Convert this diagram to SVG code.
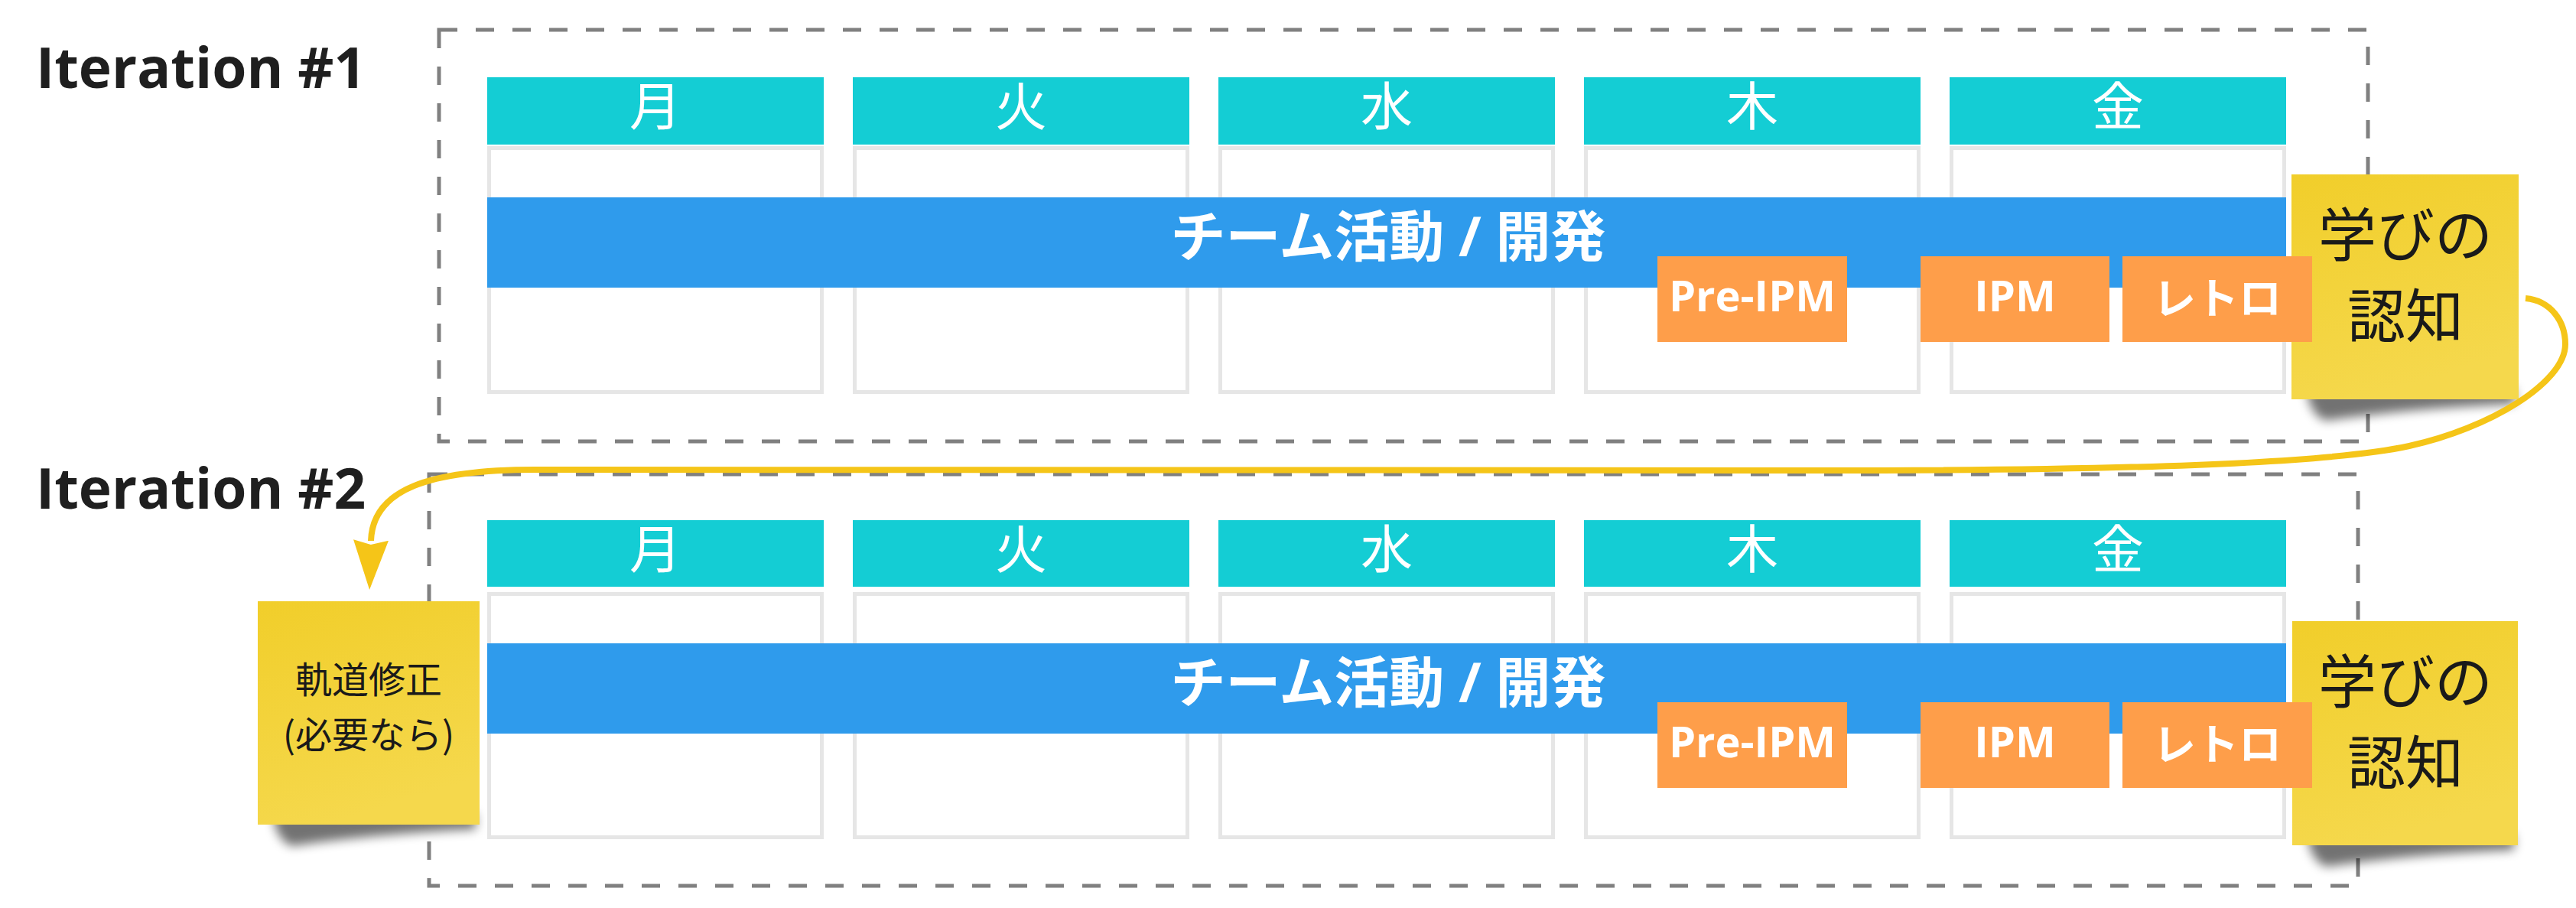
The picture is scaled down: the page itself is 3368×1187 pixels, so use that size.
<svg xmlns="http://www.w3.org/2000/svg" width="3368" height="1187" viewBox="0 0 3368 1187">
<defs>
<style>
.frame{fill:none;stroke:#808080;stroke-width:5;stroke-dasharray:24 24}
.hdr{fill:#14cdd4}
.cell{fill:#fff;stroke:#e6e6e6;stroke-width:5}
.bar{fill:#2f9bec}
.tag{fill:#fe9e4a}
.sticky{fill:url(#stickyFill)}
.shadow{fill:#000;opacity:.55;filter:url(#blur)}
.title{font-family:"Open Sans","Noto Sans CJK JP",sans-serif;font-weight:700;font-size:73px;fill:#1f1f1f}
.day{font-family:"Noto Sans CJK JP",sans-serif;font-weight:400;font-size:68px;fill:#fff;text-anchor:middle}
.bartxt{font-family:"Open Sans","Noto Sans CJK JP",sans-serif;font-weight:700;font-size:72px;fill:#fff;text-anchor:middle}
.tagtxt{font-family:"Open Sans","Noto Sans CJK JP",sans-serif;font-weight:700;font-size:56px;fill:#fff;text-anchor:middle}
.big{font-family:"Noto Sans CJK JP",sans-serif;font-weight:400;font-size:76px;fill:#1a1a1a;text-anchor:middle}
.small{font-family:"Noto Sans CJK JP",sans-serif;font-weight:400;font-size:48px;fill:#1a1a1a;text-anchor:middle}
.conn{fill:none;stroke:#f5c518;stroke-width:8}
</style>
<linearGradient id="stickyFill" x1="0" y1="0" x2="0.3" y2="1">
<stop offset="0" stop-color="#f1ce2a"/>
<stop offset="1" stop-color="#f5d84c"/>
</linearGradient>
<filter id="blur" x="-20%" y="-100%" width="140%" height="300%">
<feGaussianBlur stdDeviation="7"/>
</filter>
<marker id="arrow" viewBox="0 0 65 46" refX="1" refY="23" markerWidth="65" markerHeight="46" markerUnits="userSpaceOnUse" orient="auto">
<polygon points="0,0 65,23 0,46 6,23" fill="#f5c518"/>
</marker>
</defs>
<rect width="3368" height="1187" fill="#fff"/>

<g id="iteration1">
<text id="label1" class="title" x="47" y="115">Iteration #1</text>
<rect id="frame1" class="frame" x="574" y="39" width="2522" height="538"/>
<g id="mon1"><rect class="hdr" x="637" y="101" width="440" height="88"/><text class="day" x="857" y="164">月</text><rect class="cell" x="639.5" y="193.5" width="435" height="319"/></g>
<g id="tue1"><rect class="hdr" x="1115" y="101" width="440" height="88"/><text class="day" x="1335" y="164">火</text><rect class="cell" x="1117.5" y="193.5" width="435" height="319"/></g>
<g id="wed1"><rect class="hdr" x="1593" y="101" width="440" height="88"/><text class="day" x="1813" y="164">水</text><rect class="cell" x="1595.5" y="193.5" width="435" height="319"/></g>
<g id="thu1"><rect class="hdr" x="2071" y="101" width="440" height="88"/><text class="day" x="2291" y="164">木</text><rect class="cell" x="2073.5" y="193.5" width="435" height="319"/></g>
<g id="fri1"><rect class="hdr" x="2549" y="101" width="440" height="88"/><text class="day" x="2769" y="164">金</text><rect class="cell" x="2551.5" y="193.5" width="435" height="319"/></g>
<g id="dev1"><rect class="bar" x="637" y="258" width="2352" height="118"/><text class="bartxt" x="1815" y="335">チーム活動 / 開発</text></g>
<g id="learn1"><path class="shadow" d="M3016,507 L3288,507 L3288,528 Q3150,534 3040,550 Q3018,540 3016,507 Z"/><rect class="sticky" x="2996" y="228" width="297" height="294"/><text class="big" x="3145" y="335">学びの</text><text class="big" x="3145" y="441">認知</text></g>
<g id="preipm1"><rect class="tag" x="2167" y="335" width="248" height="112"/><text class="tagtxt" x="2291" y="407">Pre-IPM</text></g>
<g id="ipm1"><rect class="tag" x="2511" y="335" width="247" height="112"/><text class="tagtxt" x="2634.5" y="407">IPM</text></g>
<g id="retro1"><rect class="tag" x="2775" y="335" width="248" height="112"/><text class="tagtxt" x="2899" y="410">レトロ</text></g>
</g>

<g id="iteration2">
<text id="label2" class="title" x="47" y="665">Iteration #2</text>
<rect id="frame2" class="frame" x="561" y="620" width="2522" height="538"/>
<g id="mon2"><rect class="hdr" x="637" y="680" width="440" height="87"/><text class="day" x="857" y="743">月</text><rect class="cell" x="639.5" y="776.5" width="435" height="318"/></g>
<g id="tue2"><rect class="hdr" x="1115" y="680" width="440" height="87"/><text class="day" x="1335" y="743">火</text><rect class="cell" x="1117.5" y="776.5" width="435" height="318"/></g>
<g id="wed2"><rect class="hdr" x="1593" y="680" width="440" height="87"/><text class="day" x="1813" y="743">水</text><rect class="cell" x="1595.5" y="776.5" width="435" height="318"/></g>
<g id="thu2"><rect class="hdr" x="2071" y="680" width="440" height="87"/><text class="day" x="2291" y="743">木</text><rect class="cell" x="2073.5" y="776.5" width="435" height="318"/></g>
<g id="fri2"><rect class="hdr" x="2549" y="680" width="440" height="87"/><text class="day" x="2769" y="743">金</text><rect class="cell" x="2551.5" y="776.5" width="435" height="318"/></g>
<g id="dev2"><rect class="bar" x="637" y="841" width="2352" height="118"/><text class="bartxt" x="1815" y="918">チーム活動 / 開発</text></g>
<g id="learn2"><path class="shadow" d="M3017,1090 L3287,1090 L3287,1111 Q3150,1117 3041,1133 Q3019,1123 3017,1090 Z"/><rect class="sticky" x="2997" y="812" width="295" height="293"/><text class="big" x="3145" y="919">学びの</text><text class="big" x="3145" y="1025">認知</text></g>
<g id="preipm2"><rect class="tag" x="2167" y="918" width="248" height="112"/><text class="tagtxt" x="2291" y="990">Pre-IPM</text></g>
<g id="ipm2"><rect class="tag" x="2511" y="918" width="247" height="112"/><text class="tagtxt" x="2634.5" y="990">IPM</text></g>
<g id="retro2"><rect class="tag" x="2775" y="918" width="248" height="112"/><text class="tagtxt" x="2899" y="993">レトロ</text></g>
<g id="correction"><path class="shadow" d="M357,1063 L622,1063 L622,1084 Q490,1090 381,1106 Q359,1096 357,1063 Z"/><rect class="sticky" x="337" y="786" width="290" height="292"/><text class="small" x="482" y="906">軌道修正</text><text class="small" x="482" y="978">(必要なら)</text></g>
</g>

<g id="connectors">
<path class="conn" marker-end="url(#arrow)" d="M3302,390 C3335,393 3354,420 3354,450 C3354,500 3255,560 3150,583 C3050,605 2800,614 2462,615 L700,614 C560,614 487,640 485,707"/>
</g>
</svg>
